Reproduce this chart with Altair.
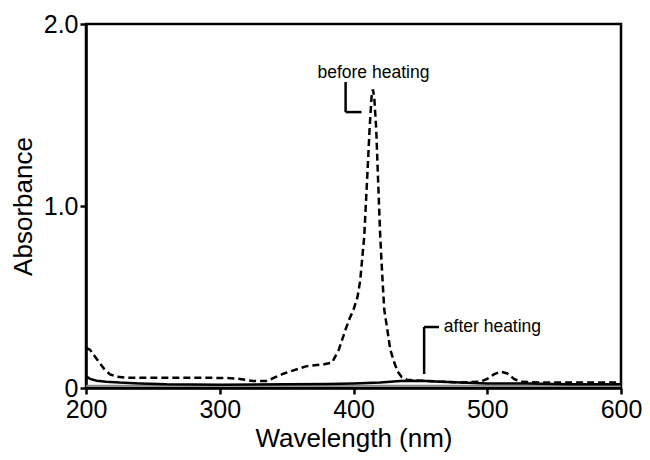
import altair as alt
import pandas as pd

FONT = "Liberation Sans"

# before heating (dashed)
before_wl = [200, 203, 206, 210, 214, 218, 223, 230, 260, 290, 305, 315, 325, 335, 348, 365, 378, 384,
             389, 394, 397, 400, 403, 405, 408, 410, 412, 413.5, 414.5, 415.5, 417, 418.5, 420, 421.5,
             423, 425.3, 427.5, 430.5, 433, 436, 440, 450, 465, 480, 495, 500, 505, 510, 515, 520, 525,
             540, 570, 600]
before_abs = [0.22, 0.21, 0.18, 0.14, 0.10, 0.075, 0.062, 0.056, 0.056, 0.056, 0.055, 0.05, 0.038, 0.038,
              0.08, 0.12, 0.13, 0.14, 0.21, 0.32, 0.38, 0.43, 0.5, 0.59, 0.83, 1.12, 1.42, 1.6, 1.64, 1.6,
              1.42, 1.12, 0.83, 0.62, 0.43, 0.32, 0.21, 0.14, 0.09, 0.06, 0.045, 0.04, 0.035, 0.03, 0.035,
              0.05, 0.075, 0.09, 0.08, 0.05, 0.035, 0.03, 0.03, 0.03]

# after heating (solid)
after_wl = [200, 203, 208, 215, 225, 240, 260, 300, 350, 380, 400, 420, 435, 450, 465, 480, 500, 530, 560, 600]
after_abs = [0.065, 0.05, 0.04, 0.035, 0.03, 0.025, 0.02, 0.018, 0.02, 0.022, 0.025, 0.03, 0.038, 0.04,
             0.035, 0.03, 0.025, 0.025, 0.02, 0.02]

# faint gray trace near baseline
base_wl = [200, 300, 400, 500, 600]
base_abs = [0.012, 0.012, 0.012, 0.012, 0.012]

x_ticks = [200, 300, 400, 500, 600]
y_ticks = [0, 1, 2]

# annotation labels and leader segments
label_text = ["before heating", "after heating"]
label_x = [414.9, 467.5]
label_y = [1.73, 0.335]
label_align = ["center", "left"]

seg_x = [394.1, 394.1, 452.8, 452.8]
seg_y = [1.681, 1.516, 0.335, 0.335]
seg_x2 = [394.1, 406.0, 452.8, 463.9]
seg_y2 = [1.516, 1.516, 0.077, 0.335]

before_df = pd.DataFrame({"wl": before_wl, "a": before_abs})
after_df = pd.DataFrame({"wl": after_wl, "a": after_abs})
base_df = pd.DataFrame({"wl": base_wl, "a": base_abs})
labels_df = pd.DataFrame({"t": label_text, "x": label_x, "y": label_y, "al": label_align})
seg_df = pd.DataFrame({"x": seg_x, "y": seg_y, "x2": seg_x2, "y2": seg_y2})

xscale = alt.Scale(domain=[200, 600], nice=False, zero=False)
yscale = alt.Scale(domain=[0, 2], nice=False)

xaxis = alt.Axis(values=x_ticks, title="Wavelength (nm)", grid=False, tickSize=6, tickWidth=2.5,
                 domainWidth=2.5, domainColor="black", tickColor="black", labelFontSize=25,
                 titleFontSize=26, labelFont=FONT, titleFont=FONT, labelColor="black",
                 titleColor="black", titleFontWeight="normal", labelPadding=3, titlePadding=3,
                 labelFlush=False)
yaxis = alt.Axis(values=y_ticks, title="Absorbance", grid=False, tickSize=6, tickWidth=2.5,
                 domainWidth=2.5, domainColor="black", tickColor="black", labelFontSize=25,
                 titleFontSize=26, labelFont=FONT, titleFont=FONT, labelColor="black",
                 titleColor="black", titleFontWeight="normal", labelPadding=2, titlePadding=7,
                 labelExpr="datum.value == 0 ? '0' : format(datum.value, '.1f')", labelFlush=False)

base = alt.Chart(base_df).mark_line(color="#888888", strokeWidth=2).encode(
    x=alt.X("wl:Q", scale=xscale, axis=xaxis), y=alt.Y("a:Q", scale=yscale, axis=yaxis))

after = alt.Chart(after_df).mark_line(color="black", strokeWidth=2.5).encode(
    x=alt.X("wl:Q", scale=xscale), y=alt.Y("a:Q", scale=yscale))

before = alt.Chart(before_df).mark_line(color="black", strokeWidth=2.5, strokeDash=[7, 4]).encode(
    x=alt.X("wl:Q", scale=xscale), y=alt.Y("a:Q", scale=yscale))

segs = alt.Chart(seg_df).mark_rule(color="black", strokeWidth=2.5).encode(
    x="x:Q", y="y:Q", x2="x2:Q", y2="y2:Q")

txt_center = alt.Chart(labels_df).transform_filter("datum.al == 'center'").mark_text(
    font=FONT, fontSize=17.5, color="black", align="center", baseline="middle").encode(
    x="x:Q", y="y:Q", text="t:N")
txt_left = alt.Chart(labels_df).transform_filter("datum.al == 'left'").mark_text(
    font=FONT, fontSize=17.5, color="black", align="left", baseline="middle").encode(
    x="x:Q", y="y:Q", text="t:N")

chart = alt.layer(base, after, before, segs, txt_center, txt_left).properties(
    width=535, height=364,
    background="white",
    autosize=alt.AutoSizeParams(type="none"),
    padding={"left": 78, "top": 16, "right": 21, "bottom": 64},
).configure_view(stroke="black", strokeWidth=2.5)

chart.save("out.html", embed_options={"renderer": "svg", "actions": False})
